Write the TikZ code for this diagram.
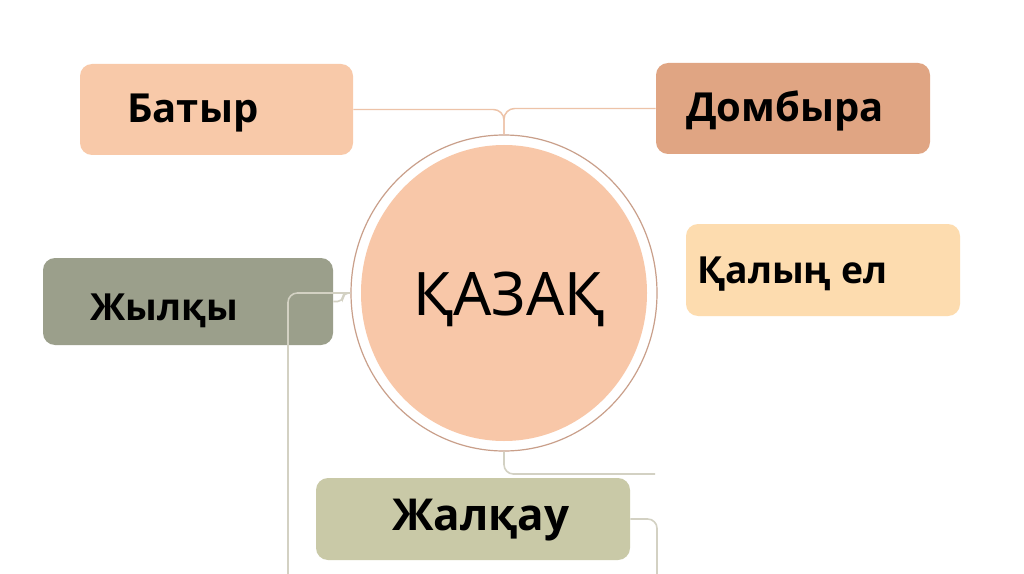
\documentclass[tikz,border=0pt]{standalone}
\usepackage{fontspec}
\setmainfont{Noto Sans}
\newfontfamily\labfont{Open Sans}
\usetikzlibrary{shapes.geometric}
\definecolor{cBatyr}{HTML}{F8C9A9}
\definecolor{cDomb}{HTML}{E0A583}
\definecolor{cKalyn}{HTML}{FDDCAF}
\definecolor{cJylky}{HTML}{9B9F8B}
\definecolor{cJalkau}{HTML}{C9C9A7}
\definecolor{cCirc}{HTML}{F8C7A8}
\definecolor{cRing}{HTML}{C99F8A}
\definecolor{cPeachLine}{HTML}{EDC3A8}
\definecolor{cGrayLine}{HTML}{D3D1C3}
\tikzset{
  box/.style={rectangle, rounded corners=9pt, draw=none, inner sep=0pt},
  lbl/.style={anchor=base west, inner sep=0pt, font=\labfont\fontsize{30}{36}\selectfont\bfseries, text=black},
  peachline/.style={draw=cPeachLine, line width=1.1pt, rounded corners=8pt},
  grayline/.style={draw=cGrayLine, line width=1.2pt, rounded corners=7pt},
}
\begin{document}
\begin{tikzpicture}[x=0.75pt,y=-0.75pt]
\useasboundingbox[fill=white] (0,0) rectangle (1024,574);
% boxes
\node[box, fill=cBatyr, minimum width=204.75pt, minimum height=68.25pt] (b) at (216.5,109.5) {};
\node[box, fill=cDomb, minimum width=205.5pt, minimum height=68.25pt] (d) at (793,108.5) {};
\node[box, fill=cKalyn, minimum width=205.5pt, minimum height=69pt] (q) at (823,270) {};
\node[box, fill=cJylky, minimum width=217.5pt, minimum height=65.25pt] (j) at (188,301.5) {};
\node[box, fill=cJalkau, minimum width=235.5pt, minimum height=61.5pt] (k) at (473,519) {};
% circle
\node[ellipse, draw=cRing, line width=0.9pt, fill=white, minimum width=229.5pt, minimum height=237pt, inner sep=0pt] (c) at (504,293) {};
\node[ellipse, fill=cCirc, minimum width=214.5pt, minimum height=222pt, inner sep=0pt] (ci) at (504,293) {};
% free ends
\coordinate (jdown) at (288,574);
\coordinate (bright) at (655,474);
\coordinate (kdown) at (657,574);
% connectors
\draw[peachline] (b.east) -| (c.north);
\draw[peachline] (d.west) -| (c.north);
\draw[grayline, rounded corners=4pt] (j.east) -| (343,293) -- (c.west);
\draw[grayline] (c.west) -| (jdown);
\draw[grayline] (c.south) |- (bright);
\draw[grayline] (k.east) -| (kdown);
% labels
\node[lbl] (tb) at (127,123) {Батыр};
\node[lbl] (td) at (686,122) {Домбыра};
\node[lbl, font=\labfont\fontsize{28}{34}\selectfont\bfseries] (tq) at (697,283) {Қалың ел};
\node[lbl, font=\labfont\fontsize{28}{34}\selectfont\bfseries] (tj) at (90,320) {Жылқы};
\node[lbl, font=\labfont\fontsize{33}{38}\selectfont\bfseries] (tk) at (392,530) {Жалқау};
\node[anchor=base west, inner sep=0pt, font=\fontsize{45}{50}\selectfont, text=black] (tc) at (413,315) {ҚАЗАҚ};
\end{tikzpicture}
\end{document}
